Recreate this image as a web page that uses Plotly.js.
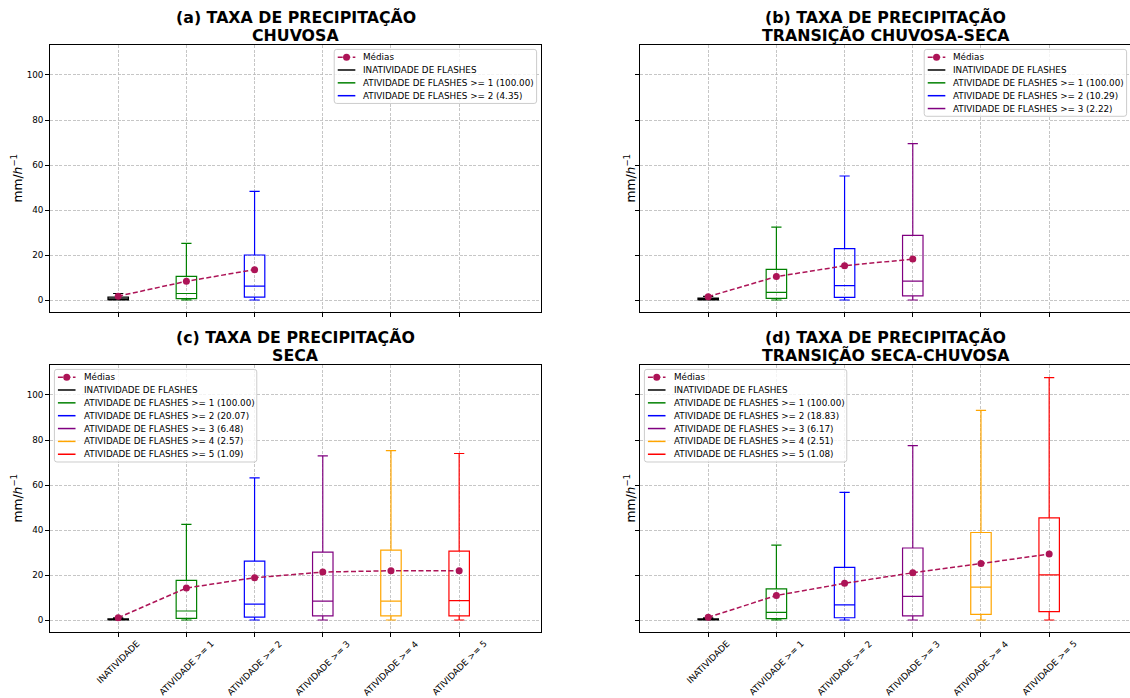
<!DOCTYPE html>
<html>
<head>
<meta charset="utf-8">
<script src="https://cdn.plot.ly/plotly-3.0.1.min.js"></script>
<style>
  html, body { margin: 0; padding: 0; background: #ffffff; }
  #chart { width: 1130px; height: 698px; }
</style>
</head>
<body>
<div id="chart"></div>
<script>
// ---- categories, series names and tick labels ----
const categories = ['INATIVIDADE', 'ATIVIDADE >= 1', 'ATIVIDADE >= 2', 'ATIVIDADE >= 3', 'ATIVIDADE >= 4', 'ATIVIDADE >= 5'];
const seriesNames = ['INATIVIDADE DE FLASHES', 'ATIVIDADE DE FLASHES >= 1', 'ATIVIDADE DE FLASHES >= 2',
                     'ATIVIDADE DE FLASHES >= 3', 'ATIVIDADE DE FLASHES >= 4', 'ATIVIDADE DE FLASHES >= 5'];
const seriesColors = ['#000000', '#008000', '#0000ff', '#800080', '#ffa500', '#ff0000'];
const meanLabel = 'Médias';
const meanColor = '#AD1457';
const yTicks = [0, 20, 40, 60, 80, 100];
const yTitle = 'mm/<i>h</i><sup>−1</sup>';

// ---- (a) chuvosa ----
const chuvosaTitle  = ['(a) TAXA DE PRECIPITAÇÃO', 'CHUVOSA'];
const chuvosaLower  = [0, 0, 0];
const chuvosaQ1     = [0.1, 0.6, 1.3];
const chuvosaMedian = [0.4, 2.9, 6.2];
const chuvosaQ3     = [1.3, 10.5, 20.0];
const chuvosaUpper  = [2.9, 25.2, 48.3];
const chuvosaMean   = [1.7, 8.3, 13.5];
const chuvosaShare  = ['100.00', '4.35'];

// ---- (b) transição chuvosa-seca ----
const chuvSecaTitle  = ['(b) TAXA DE PRECIPITAÇÃO', 'TRANSIÇÃO CHUVOSA-SECA'];
const chuvSecaLower  = [0, 0, 0, 0];
const chuvSecaQ1     = [0.1, 0.7, 1.2, 1.8];
const chuvSecaMedian = [0.3, 3.4, 6.4, 8.4];
const chuvSecaQ3     = [0.8, 13.6, 22.8, 28.7];
const chuvSecaUpper  = [1.6, 32.4, 55.1, 69.5];
const chuvSecaMean   = [1.5, 10.4, 15.2, 18.2];
const chuvSecaShare  = ['100.00', '10.29', '2.22'];

// ---- (c) seca ----
const secaTitle  = ['(c) TAXA DE PRECIPITAÇÃO', 'SECA'];
const secaLower  = [0, 0, 0, 0, 0, 0];
const secaQ1     = [0.05, 0.7, 1.3, 1.8, 1.8, 1.8];
const secaMedian = [0.2, 4.0, 7.1, 8.4, 8.4, 8.6];
const secaQ3     = [0.5, 17.6, 26.2, 30.2, 31.1, 30.6];
const secaUpper  = [1.0, 42.5, 63.2, 72.9, 75.3, 74.0];
const secaMean   = [1.0, 14.2, 18.8, 21.3, 21.9, 21.9];
const secaShare  = ['100.00', '20.07', '6.48', '2.57', '1.09'];

// ---- (d) transição seca-chuvosa ----
const secaChuvTitle  = ['(d) TAXA DE PRECIPITAÇÃO', 'TRANSIÇÃO SECA-CHUVOSA'];
const secaChuvLower  = [0, 0, 0, 0, 0, 0];
const secaChuvQ1     = [0.05, 0.6, 1.0, 1.8, 2.5, 3.7];
const secaChuvMedian = [0.2, 3.4, 6.7, 10.5, 14.6, 20.1];
const secaChuvQ3     = [0.5, 13.8, 23.4, 32.0, 38.9, 45.4];
const secaChuvUpper  = [1.0, 33.3, 56.7, 77.5, 93.2, 107.7];
const secaChuvMean   = [1.2, 10.9, 16.3, 21.0, 25.1, 29.3];
const secaChuvShare  = ['100.00', '18.83', '6.17', '2.51', '1.08'];

const panels = [
  {title: chuvosaTitle, lower: chuvosaLower, q1: chuvosaQ1, median: chuvosaMedian, q3: chuvosaQ3, upper: chuvosaUpper, mean: chuvosaMean, share: chuvosaShare},
  {title: chuvSecaTitle, lower: chuvSecaLower, q1: chuvSecaQ1, median: chuvSecaMedian, q3: chuvSecaQ3, upper: chuvSecaUpper, mean: chuvSecaMean, share: chuvSecaShare},
  {title: secaTitle, lower: secaLower, q1: secaQ1, median: secaMedian, q3: secaQ3, upper: secaUpper, mean: secaMean, share: secaShare},
  {title: secaChuvTitle, lower: secaChuvLower, q1: secaChuvQ1, median: secaChuvMedian, q3: secaChuvQ3, upper: secaChuvUpper, mean: secaChuvMean, share: secaChuvShare}
];

// ---- page geometry (pixels) ----
const W = 1130, H = 698;
const FONT = 'DejaVu Sans';
const FS = 8.8;                 // tick / legend font size
const frames = [
  {l: 50,  r: 541,  t: 45,  b: 312, legendSide: 'right', yLabels: true,  xLabels: false},
  {l: 640, r: 1131, t: 45,  b: 312, legendSide: 'right', yLabels: false, xLabels: false},
  {l: 50,  r: 541,  t: 365, b: 632, legendSide: 'left',  yLabels: true,  xLabels: true},
  {l: 640, r: 1131, t: 365, b: 632, legendSide: 'left',  yLabels: false, xLabels: true}
];
const X_SPAN = 7.2;             // x extent of a full panel, in category units
const Y_RANGE = [-5.33, 113.33];

const px = p => p / W;
const py = p => 1 - p / H;

const measureCtx = document.createElement('canvas').getContext('2d');
measureCtx.font = FS + 'px "' + FONT + '"';
const textWidth = s => measureCtx.measureText(s).width;

const data = [];
const meanTraces = [];
const layout = {
  width: W, height: H,
  margin: {l: 0, r: 0, t: 0, b: 0},
  paper_bgcolor: '#ffffff',
  plot_bgcolor: '#ffffff',
  font: {family: FONT, size: FS, color: '#000000'},
  showlegend: false,
  shapes: [],
  annotations: []
};

panels.forEach((p, k) => {
  const f = frames[k];
  const s = k === 0 ? '' : String(k + 1);
  const xa = 'x' + s, ya = 'y' + s;
  const rightEdge = Math.min(f.r, W);
  const xMax = X_SPAN * (rightEdge - f.l) / (f.r - f.l);

  layout['xaxis' + s] = {
    domain: [px(f.l), px(rightEdge)],
    anchor: ya,
    range: [0, xMax],
    tickvals: categories.map((c, i) => i + 1),
    showticklabels: false,
    ticks: 'outside', ticklen: 3.5, tickwidth: 1, tickcolor: '#000000',
    showgrid: true, gridcolor: '#b8b8b8', gridwidth: 0.8, griddash: '3px,1.5px',
    zeroline: false,
    showline: true, linecolor: '#000000', linewidth: 1.3, mirror: true,
    fixedrange: true
  };
  layout['yaxis' + s] = {
    domain: [py(f.b), py(f.t)],
    anchor: xa,
    range: Y_RANGE,
    tickvals: yTicks,
    ticktext: yTicks.map(String),
    showticklabels: f.yLabels,
    tickfont: {family: FONT, size: FS, color: '#000000'},
    ticks: 'outside', ticklen: 3.5, tickwidth: 1, tickcolor: '#000000',
    showgrid: true, gridcolor: '#b8b8b8', gridwidth: 0.8, griddash: '3px,1.5px',
    zeroline: false,
    showline: true, linecolor: '#000000', linewidth: 1.3, mirror: f.r <= W,
    fixedrange: true
  };

  // boxes, one trace per activity class
  const n = p.mean.length;
  const pos = [];
  for (let i = 0; i < n; i++) {
    pos.push(i + 1);
    data.push({
      type: 'box',
      x: [i + 1],
      lowerfence: [p.lower[i]], q1: [p.q1[i]], median: [p.median[i]],
      q3: [p.q3[i]], upperfence: [p.upper[i]],
      width: 0.3, whiskerwidth: 0.5,
      line: {color: seriesColors[i], width: 1.2},
      fillcolor: 'rgba(0,0,0,0)',
      boxpoints: false,
      hoverinfo: 'skip',
      showlegend: false,
      xaxis: xa, yaxis: ya
    });
  }
  // mean of each class, joined by a dashed line
  meanTraces.push({
    type: 'scatter',
    x: pos, y: p.mean,
    mode: 'lines+markers',
    line: {color: meanColor, width: 1.5, dash: '5px,2.5px'},
    marker: {color: meanColor, size: 7},
    hoverinfo: 'skip',
    showlegend: false,
    xaxis: xa, yaxis: ya
  });

  // panel title (two lines)
  const cx = (f.l + f.r) / 2;
  [17.3, 35].forEach((dy, j) => {
    layout.annotations.push({
      xref: 'paper', yref: 'paper', x: px(cx), y: py(f.t - 45 + dy),
      xanchor: 'center', yanchor: 'middle', showarrow: false,
      text: p.title[j], borderpad: 0,
      font: {family: FONT, size: 15.8, color: '#000000', weight: 'bold'}
    });
  });

  // y axis title
  layout.annotations.push({
    xref: 'paper', yref: 'paper',
    x: px(f.yLabels ? f.l - 34 : f.l - 11), y: py((f.t + f.b) / 2),
    xanchor: 'center', yanchor: 'middle', showarrow: false, textangle: -90,
    text: yTitle, borderpad: 0,
    font: {family: FONT, size: 12.3, color: '#000000'}
  });

  // rotated category labels under the bottom panels
  if (f.xLabels) {
    categories.forEach((c, i) => {
      layout.annotations.push({
        xref: xa, yref: 'paper', x: i + 1, y: py(f.b + 5),
        xanchor: 'center', yanchor: 'top', showarrow: false, textangle: -45,
        text: c, borderpad: 0,
        font: {family: FONT, size: FS, color: '#000000'}
      });
    });
  }

  // legend
  const labels = [meanLabel];
  for (let i = 0; i < n; i++) {
    labels.push(i === 0 ? seriesNames[0] : seriesNames[i] + ' (' + p.share[i - 1] + ')');
  }
  const pad = 0.4 * FS, hl = 2 * FS, htp = 0.8 * FS, ls = 0.5 * FS, axpad = 0.5 * FS, rowH = 8.45;
  const tw = Math.max(...labels.map(textWidth));
  const bw = 2 * pad + hl + htp + tw;
  const bh = 2 * pad + labels.length * rowH + (labels.length - 1) * ls;
  const left = f.legendSide === 'right' ? f.r - axpad - bw : f.l + axpad;
  const top = f.t + axpad;
  const right = left + bw, bottom = top + bh, rad = 2.5;
  const P = (x, y) => px(x) + ',' + py(y);
  layout.shapes.push({
    type: 'path', xref: 'paper', yref: 'paper', layer: 'above',
    path: 'M' + P(left + rad, top) + ' L' + P(right - rad, top) + ' Q' + P(right, top) + ' ' + P(right, top + rad) +
          ' L' + P(right, bottom - rad) + ' Q' + P(right, bottom) + ' ' + P(right - rad, bottom) +
          ' L' + P(left + rad, bottom) + ' Q' + P(left, bottom) + ' ' + P(left, bottom - rad) +
          ' L' + P(left, top + rad) + ' Q' + P(left, top) + ' ' + P(left + rad, top) + ' Z',
    fillcolor: 'rgba(255,255,255,0.8)',
    line: {color: '#cccccc', width: 1}
  });
  labels.forEach((lab, j) => {
    const yc = top + pad + rowH / 2 + j * (rowH + ls);
    const x0 = left + pad, x1 = left + pad + hl;
    const isMean = j === 0;
    layout.shapes.push({
      type: 'line', xref: 'paper', yref: 'paper', layer: 'above',
      x0: px(x0), x1: px(x1), y0: py(yc), y1: py(yc),
      line: isMean ? {color: meanColor, width: 1.5, dash: '5px,2.5px'}
                   : {color: seriesColors[j - 1], width: 1.5}
    });
    if (isMean) {
      layout.shapes.push({
        type: 'circle', xref: 'paper', yref: 'paper', layer: 'above',
        xsizemode: 'pixel', ysizemode: 'pixel',
        xanchor: px((x0 + x1) / 2), yanchor: py(yc),
        x0: -3.5, x1: 3.5, y0: -3.5, y1: 3.5,
        fillcolor: meanColor, line: {width: 0}
      });
    }
    layout.annotations.push({
      xref: 'paper', yref: 'paper', x: px(x1 + htp), y: py(yc),
      xanchor: 'left', yanchor: 'middle', showarrow: false,
      text: lab, borderpad: 0,
      font: {family: FONT, size: FS, color: '#000000'}
    });
  });
});

Plotly.newPlot('chart', data.concat(meanTraces), layout, {displayModeBar: false, staticPlot: true});
</script>
</body>
</html>
